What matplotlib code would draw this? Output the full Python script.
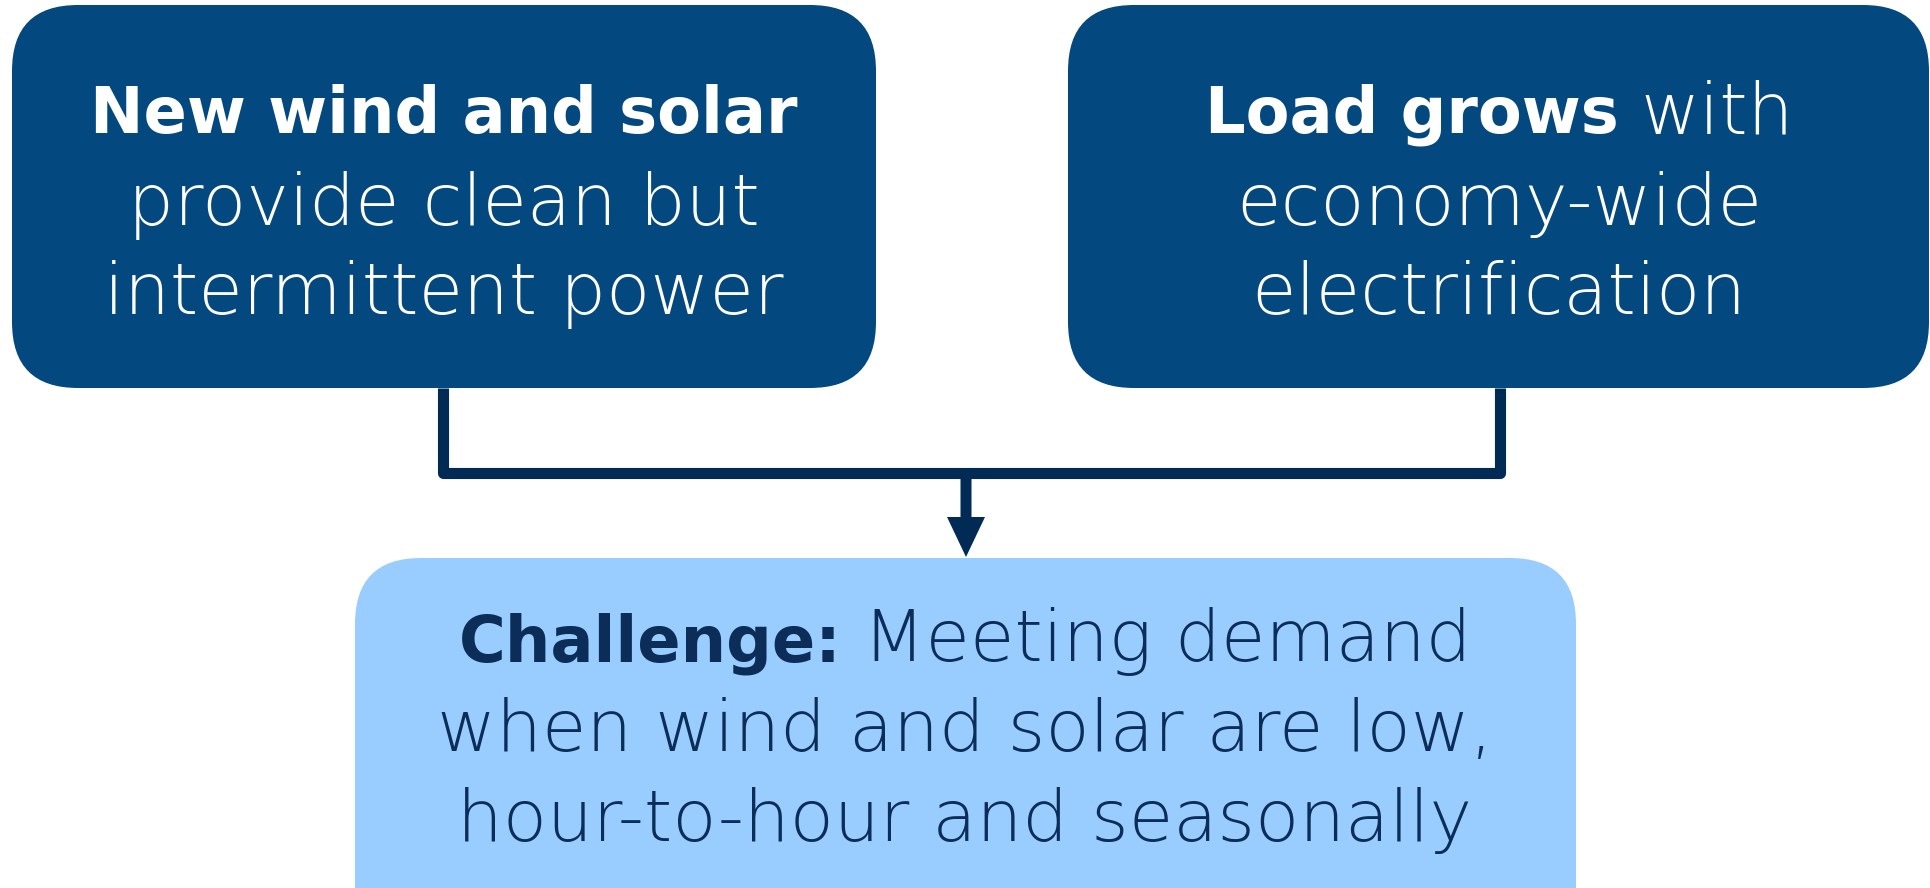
"""Flow diagram: wind/solar supply and load growth lead to the reliability challenge."""

import matplotlib
matplotlib.use("Agg")
import matplotlib.pyplot as plt
from matplotlib.patches import FancyBboxPatch, FancyArrow

W, H, DPI = 1931, 888, 100

DARK_BLUE = "#03487f"
LIGHT_BLUE = "#99ccff"
NAVY = "#012b55"
TEXT_NAVY = "#0b2d57"

# each line is a list of (text, bold) runs
left_lines = [
    [("New wind and solar", True)],
    [("provide clean but", False)],
    [("intermittent power", False)],
]
right_lines = [
    [("Load grows", True), ("with", False)],
    [("economy-wide", False)],
    [("electrification", False)],
]
bottom_lines = [
    [("Challenge:", True), ("Meeting demand", False)],
    [("when wind and solar are low,", False)],
    [("hour-to-hour and seasonally", False)],
]

# boxes: (x0, y0, x1, y1) in pixels, y downward
left_box = (12, 5, 876, 388)
right_box = (1068, 5, 1929, 388)
bottom_box = (355, 558, 1576, 960)

FONT = "DejaVu Sans"
BOLD_SIZE = 46
LIGHT_SIZE = 52

fig = plt.figure(figsize=(W / DPI, H / DPI), dpi=DPI)
ax = fig.add_axes([0, 0, 1, 1])
ax.set_xlim(0, W)
ax.set_ylim(H, 0)
ax.axis("off")


def draw_box(box, color):
    x0, y0, x1, y1 = box
    ax.add_patch(FancyBboxPatch((x0, y0), x1 - x0, y1 - y0,
                                boxstyle="round,pad=0,rounding_size=66",
                                facecolor=color, edgecolor="none", zorder=1))


renderer = fig.canvas.get_renderer()


def draw_lines(lines, cx, baselines, color):
    gap = LIGHT_SIZE * DPI / 72 * 0.3
    for runs, yb in zip(lines, baselines):
        texts = []
        for s, bold in runs:
            t = ax.text(0, yb, s, family=FONT,
                        fontsize=BOLD_SIZE if bold else LIGHT_SIZE,
                        fontweight="bold" if bold else "light",
                        color=color, ha="left", va="baseline", zorder=3)
            texts.append(t)
        widths = [t.get_window_extent(renderer).width for t in texts]
        total = sum(widths) + gap * (len(texts) - 1)
        x = cx - total / 2
        for t, w in zip(texts, widths):
            t.set_x(x)
            x += w + gap


draw_box(left_box, DARK_BLUE)
draw_box(right_box, DARK_BLUE)
draw_box(bottom_box, LIGHT_BLUE)

draw_lines(left_lines, 444, [133, 225, 314], "white")
draw_lines(right_lines, 1499, [133, 225, 314], "white")
draw_lines(bottom_lines, 965, [661, 751, 841], TEXT_NAVY)

# bracket joining the two upper boxes
ax.plot([443, 443, 1500, 1500], [388, 473, 473, 388], color=NAVY,
        lw=8, solid_joinstyle="round", solid_capstyle="butt", zorder=0)
ax.add_patch(FancyArrow(966, 470, 0, 87, width=11, head_width=38,
                        head_length=40, length_includes_head=True,
                        color=NAVY, lw=0, zorder=0))

fig.savefig("out.png", dpi=DPI)
